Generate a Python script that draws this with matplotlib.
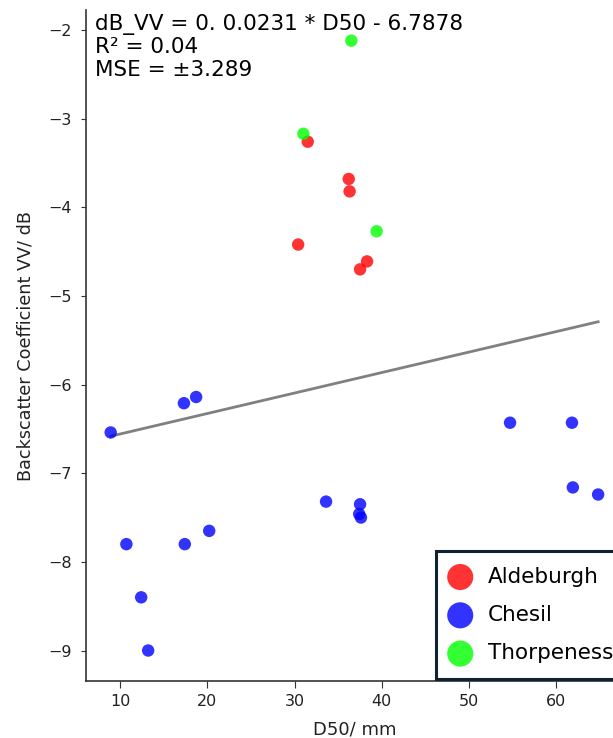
import numpy as np
import matplotlib
matplotlib.use("Agg")
import matplotlib.pyplot as plt

# ---- data ----
ald_x = [31.5, 36.2, 36.3, 30.4, 38.3, 37.5]
ald_y = [-3.26, -3.68, -3.82, -4.42, -4.61, -4.70]

ches_x = [8.9, 17.3, 18.7, 54.7, 61.8, 61.9, 64.8, 33.6, 37.5, 37.4, 37.6, 10.7, 17.4, 20.2, 12.4, 13.2]
ches_y = [-6.54, -6.21, -6.14, -6.43, -6.43, -7.16, -7.24, -7.32, -7.35, -7.46, -7.50, -7.80, -7.80, -7.65, -8.40, -9.00]

thor_x = [36.5, 31.0, 39.4]
thor_y = [-2.12, -3.17, -4.27]

slope = 0.0231
intercept = -6.7878
r2 = 0.04
mse = 3.289

W, H = 613, 738
fig = plt.figure(figsize=(W / 100, H / 100), dpi=100)
ax_l, ax_r, ax_t, ax_b = 86.3, 622.5, 10.2, 681.0
ax = fig.add_axes([ax_l / W, 1 - ax_b / H, (ax_r - ax_l) / W, (ax_b - ax_t) / H])

ms = 80
ax.scatter(ald_x, ald_y, s=ms, color="#ff0000", alpha=0.8, edgecolors="none", label="Aldeburgh", zorder=3)
ax.scatter(ches_x, ches_y, s=ms, color="#0000ff", alpha=0.8, edgecolors="none", label="Chesil", zorder=3)
ax.scatter(thor_x, thor_y, s=ms, color="#00ff00", alpha=0.8, edgecolors="none", label="Thorpeness", zorder=3)

all_x = np.array(ald_x + ches_x + thor_x)
lx = np.array([all_x.min(), all_x.max()])
ax.plot(lx, slope * lx + intercept, color="#808080", lw=2, zorder=2)

for s in ["top", "right"]:
    ax.spines[s].set_visible(False)
for s in ["left", "bottom"]:
    ax.spines[s].set_color("#333333")
    ax.spines[s].set_linewidth(1.2)
ax.tick_params(axis="x", labelsize=11.5, length=5, pad=4, color="#333333", labelcolor="#222222")
ax.tick_params(axis="y", labelsize=11.5, length=3.6, pad=7, color="#333333", labelcolor="#222222")
ax.set_xticks([10, 20, 30, 40, 50, 60])
ax.set_yticks([-9, -8, -7, -6, -5, -4, -3, -2])
ax.set_yticklabels(["\u22129", "\u22128", "\u22127", "\u22126", "\u22125", "\u22124", "\u22123", "\u22122"])

ax.set_xlabel("D50/ mm", fontsize=13, color="#222222", labelpad=9)
ax.set_ylabel("Backscatter Coefficient VV/ dB", fontsize=12.7, color="#222222", labelpad=10)

ax.text(0.017, 0.995, f"dB_VV = 0. {slope} * D50 - {abs(intercept)}\nR\u00b2 = {r2}\nMSE = \u00b1{mse}",
        transform=ax.transAxes, fontsize=15.5, va="top", ha="left", linespacing=1.18)

leg = ax.legend(loc="lower left", bbox_to_anchor=(0.652, 0.003), borderaxespad=0,
                fontsize=15.5, markerscale=2.1, frameon=True, fancybox=False,
                handlelength=0.8, handletextpad=0.87, labelspacing=0.85, borderpad=0.73)
leg.get_frame().set_edgecolor("#0d2233")
leg.get_frame().set_linewidth(2.2)
leg.get_frame().set_alpha(1)

fig.savefig("out.png", dpi=100)
